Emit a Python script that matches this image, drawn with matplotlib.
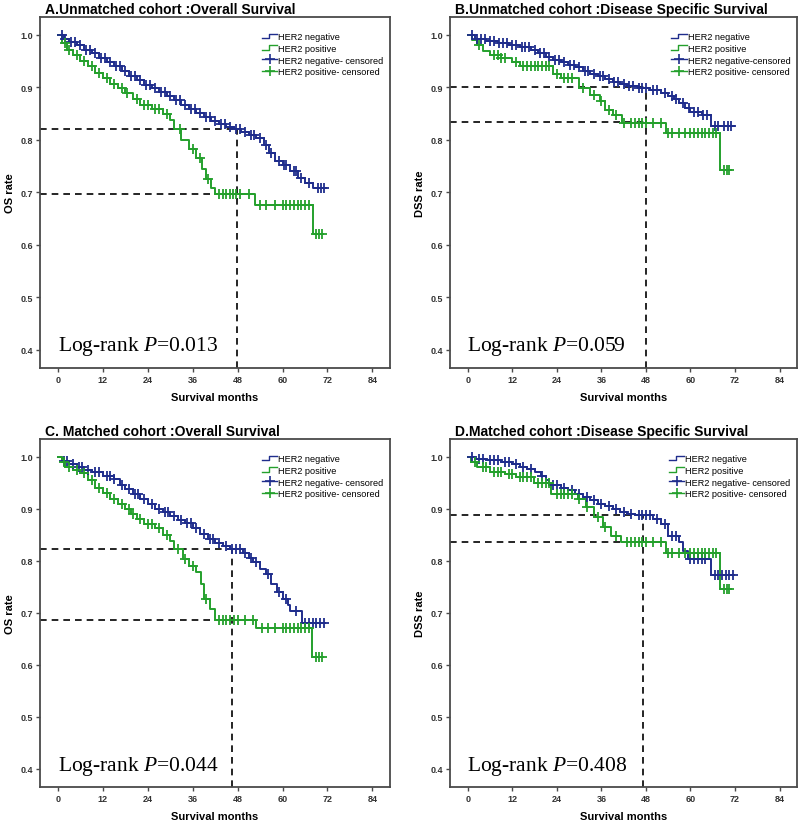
import numpy as np
import matplotlib
matplotlib.use("Agg")
import matplotlib.pyplot as plt
from matplotlib.legend_handler import HandlerBase
from matplotlib.lines import Line2D

# ---------------- data ----------------
titles = ["A.Unmatched cohort :Overall Survival",
          "B.Unmatched cohort :Disease Specific Survival",
          "C. Matched cohort :Overall Survival",
          "D.Matched cohort :Disease Specific Survival"]
ylabels = ["OS rate", "DSS rate", "OS rate", "DSS rate"]
pvalues = ["0.013", "0.059", "0.044", "0.408"]
legend_labels = [["HER2 negative", "HER2 positive", "HER2 negative- censored", "HER2 positive- censored"],
                 ["HER2 negative", "HER2 positive", "HER2 negative-censored", "HER2 positive- censored"],
                 ["HER2 negative", "HER2 positive", "HER2 negative- censored", "HER2 positive- censored"],
                 ["HER2 negative", "HER2 positive", "HER2 negative- censored", "HER2 positive- censored"]]
xticks = [0, 12, 24, 36, 48, 60, 72, 84]
yticks = [0.4, 0.5, 0.6, 0.7, 0.8, 0.9, 1.0]

# Panel A
negA_t = [0, 1.5, 3, 5, 7, 9, 11, 13, 15, 17, 19, 21, 23, 25, 27, 29, 31, 33, 35, 37, 39, 41, 43, 45, 47,
          49, 51, 53, 55, 56.5, 58, 60, 62, 64, 66, 68]
negA_s = [1.0, 0.993, 0.987, 0.980, 0.972, 0.965, 0.955, 0.948, 0.940, 0.932, 0.922, 0.914, 0.905, 0.898,
          0.891, 0.884, 0.875, 0.866, 0.858, 0.851, 0.843, 0.836, 0.830, 0.825, 0.820, 0.815, 0.810, 0.803,
          0.790, 0.775, 0.760, 0.752, 0.740, 0.728, 0.718, 0.708]
negA_end = 71.5
negA_c = [1, 2, 3.5, 4.5, 6, 7.5, 8.5, 10, 11.5, 12.5, 14, 15.5, 16.5, 18, 19.5, 20.5, 22, 23.5, 24.5, 26,
          27.5, 28.5, 30, 31.5, 32.5, 34, 35.5, 36.5, 38, 39.5, 40.5, 42, 43.5, 44.5, 46, 47.5, 48.5, 50,
          51.5, 52.5, 54, 55.5, 57, 59, 60.5, 61, 63, 63.5, 65, 67, 69.5, 70.3, 71]
posA_t = [0, 1, 2.5, 4, 6, 8, 10, 12, 14, 16, 18, 20, 22, 25, 28, 30, 31, 33, 35, 37, 38.5, 39.5, 41, 42,
          52.7, 68.2]
posA_s = [1.0, 0.985, 0.972, 0.962, 0.950, 0.940, 0.928, 0.918, 0.906, 0.898, 0.890, 0.878, 0.866, 0.858,
          0.850, 0.838, 0.820, 0.800, 0.783, 0.765, 0.745, 0.725, 0.708, 0.696, 0.675, 0.620]
posA_end = 70.8
posA_c = [2, 3, 5, 7, 9, 11, 13, 15, 17, 18.5, 21, 23, 24, 26, 27, 29, 32.5, 36, 38, 40, 43, 44, 45, 46,
          46.8, 47.5, 48.5, 51, 54, 55.5, 58, 60, 61, 62, 63, 64, 65, 66, 67, 69, 69.8, 70.5]

# Panel B
negB_t = [0, 2, 5, 8, 11, 14, 17, 19, 21, 23, 25, 27, 29, 31, 33, 35, 37, 39, 41, 43, 46, 49, 52, 54,
          55.5, 57, 58.5, 60, 63, 65.4]
negB_s = [1.0, 0.993, 0.988, 0.984, 0.980, 0.976, 0.972, 0.965, 0.958, 0.952, 0.948, 0.943, 0.938, 0.932,
          0.926, 0.921, 0.916, 0.911, 0.906, 0.903, 0.899, 0.895, 0.889, 0.883, 0.877, 0.870, 0.860, 0.852,
          0.847, 0.827]
negB_end = 71.6
negB_c = [1, 2.5, 3.5, 4.5, 6, 7, 8.5, 9.5, 10.5, 12, 13, 14.5, 15.5, 16.5, 18, 19.5, 20.5, 22, 23.5, 24.5,
          26, 27.5, 28.5, 30, 31.5, 32.5, 34, 35.5, 36.5, 38, 39.5, 40.5, 42, 43.5, 44.5, 46, 47, 48, 50,
          51, 53, 55, 56, 58, 59.5, 61, 62, 63.5, 64.5, 66.5, 67.5, 69, 70, 71]
posB_t = [0, 1, 2.5, 4, 6, 9, 12, 14, 22.9, 25, 30, 33, 35.5, 37, 39, 41.5, 53.3, 68]
posB_s = [1.0, 0.990, 0.980, 0.970, 0.962, 0.955, 0.948, 0.941, 0.925, 0.918, 0.899, 0.886, 0.873, 0.857,
          0.847, 0.832, 0.812, 0.743]
posB_end = 70.8
posB_c = [3, 7, 8, 9, 10, 13, 15, 16, 17, 18, 19, 20, 21, 22, 24, 26, 27, 28, 31, 34, 36, 38, 40, 42, 44,
          45, 46, 47, 48, 50, 52, 54, 55, 57, 58.5, 60, 61, 62, 63, 64, 65, 66, 67, 69, 69.8, 70.5]

# Panel C
negC_t = [0, 1, 3, 5, 7, 9, 12, 15, 16.5, 18, 20, 22, 24, 26, 28, 30, 32, 34, 36, 38, 40, 42, 44, 46,
          49.5, 51, 52, 54, 55.5, 57, 58.5, 60, 61.5, 62, 65.2]
negC_s = [1.0, 0.992, 0.985, 0.980, 0.975, 0.970, 0.963, 0.957, 0.945, 0.937, 0.928, 0.918, 0.910, 0.900,
          0.893, 0.886, 0.878, 0.872, 0.862, 0.852, 0.841, 0.835, 0.829, 0.822, 0.815, 0.806, 0.797, 0.785,
          0.775, 0.755, 0.740, 0.727, 0.715, 0.704, 0.680]
negC_end = 71.4
negC_c = [1.5, 2.5, 4, 5.5, 6.5, 8, 10, 11, 13, 14, 15, 17, 19, 20.5, 21.5, 23, 25, 27, 28.5, 29.5, 31,
          33, 34.5, 35.5, 37, 39, 40.5, 41.5, 43, 45, 46.5, 47.5, 48.5, 50, 51.5, 53, 56, 59, 61, 63.5,
          66, 67, 68, 69, 70, 71]
posC_t = [0, 1, 2, 4, 6, 8, 10, 12, 14, 16, 18, 19.5, 21, 23, 26, 28, 30, 31, 33.5, 35, 37, 38.3, 38.9,
          40.5, 42, 53, 67.9]
posC_s = [1.0, 0.990, 0.981, 0.975, 0.968, 0.955, 0.940, 0.930, 0.918, 0.910, 0.900, 0.890, 0.880, 0.870,
          0.862, 0.850, 0.838, 0.822, 0.803, 0.790, 0.778, 0.755, 0.727, 0.708, 0.687, 0.671, 0.615]
posC_end = 70.6
posC_c = [1.5, 3, 5, 7, 9, 11, 13, 15, 17, 19, 20, 22, 24, 25, 27, 29, 32, 34, 36, 39.5, 43, 44, 45, 46,
          47, 48, 50, 52, 54.5, 56, 58, 60, 61, 62, 63, 64, 65, 66, 67, 69, 69.8, 70.5]

# Panel D
negD_t = [0, 2, 5, 9, 12, 14, 16, 18, 19.6, 21, 22, 25, 27, 29, 31, 33, 35, 37, 39, 41, 43, 45, 50, 52,
          54, 57, 58.1, 59.2, 65.4]
negD_s = [1.0, 0.995, 0.993, 0.990, 0.985, 0.981, 0.976, 0.971, 0.962, 0.955, 0.946, 0.940, 0.935, 0.928,
          0.922, 0.916, 0.910, 0.905, 0.900, 0.894, 0.889, 0.887, 0.880, 0.870, 0.848, 0.836, 0.818, 0.803,
          0.772]
negD_end = 71.6
negD_c = [1, 3, 4, 6, 7, 8, 10, 11, 13, 15, 17, 20, 23, 24, 26, 28, 30, 32, 34, 36, 38, 40, 42, 44, 46,
          47, 48, 49, 51, 53, 55, 56, 60, 61, 62, 63, 64, 66.5, 67.5, 68.5, 69.5, 70.5, 71.5]
posD_t = [0, 0.8, 2.5, 6, 10, 13, 17.8, 22.3, 29.6, 31.8, 33.9, 36.3, 38.5, 41.2, 53.3, 68]
posD_s = [1.0, 0.990, 0.981, 0.971, 0.966, 0.960, 0.950, 0.928, 0.918, 0.903, 0.885, 0.864, 0.847, 0.836,
          0.815, 0.746]
posD_end = 70.8
posD_c = [2, 4, 5, 7, 8, 9, 11, 12, 14, 15, 16, 17, 19, 20, 21, 22, 24, 25, 26, 27, 28, 30, 32, 35, 37,
          40, 43, 44, 45, 46, 47, 48, 50, 52, 54, 55, 57, 58.5, 60, 61, 62, 63, 64, 65, 66, 67, 69, 69.8, 70.5]

# reference guide lines: (x position, upper y, lower y)
guide_x = [47.8, 47.9, 46.6, 47.1]
guide_hi = [0.820, 0.900, 0.822, 0.887]
guide_lo = [0.697, 0.833, 0.686, 0.836]

curves = [
    (negA_t, negA_s, negA_end, negA_c, posA_t, posA_s, posA_end, posA_c),
    (negB_t, negB_s, negB_end, negB_c, posB_t, posB_s, posB_end, posB_c),
    (negC_t, negC_s, negC_end, negC_c, posC_t, posC_s, posC_end, posC_c),
    (negD_t, negD_s, negD_end, negD_c, posD_t, posD_s, posD_end, posD_c),
]

# ---------------- style ----------------
BLUE = "#1f2d8c"
GREEN = "#24a02c"
FRAME = "#4a4a4a"
plt.rcParams["font.family"] = ["Liberation Sans", "DejaVu Sans"]
plt.rcParams["mathtext.fontset"] = "custom"
plt.rcParams["mathtext.rm"] = "Liberation Serif"
plt.rcParams["mathtext.it"] = "Liberation Serif:italic"

W, H = 799, 828
fig = plt.figure(figsize=(W / 100, H / 100), dpi=100)
fig.patch.set_facecolor("white")

boxes = [(40, 18, 390, 369), (450, 18, 797, 369), (40, 440, 390, 788), (450, 440, 797, 788)]


class StepHandler(HandlerBase):
    def create_artists(self, legend, orig_handle, xdescent, ydescent, width, height, fontsize, trans):
        x = np.array([0, 0.45, 0.45, 1.0]) * width - xdescent
        y = np.array([0.15, 0.15, 0.85, 0.85]) * height - ydescent
        ln = Line2D(x, y, color=orig_handle.get_color(), lw=1.0, transform=trans)
        return [ln]


def step_value(t, s, x):
    i = np.searchsorted(np.asarray(t), x, side="right") - 1
    return np.asarray(s)[i]


for k, (l, t, r, b) in enumerate(boxes):
    ax = fig.add_axes([l / W, 1 - b / H, (r - l) / W, (b - t) / H])
    nt, ns, nend, nc, pt, ps, pend, pc = curves[k]
    xlo = -4.8
    ax.set_xlim(xlo, 88.7)
    ax.set_ylim(0.365, 1.034)

    # guide lines
    gx = guide_x[k]
    ax.plot([xlo, gx], [guide_hi[k]] * 2, color="black", lw=1.2, ls=(0, (4, 3)), zorder=1)
    ax.plot([xlo, gx], [guide_lo[k]] * 2, color="black", lw=1.2, ls=(0, (4, 3)), zorder=1)
    ax.plot([gx, gx], [0.365, guide_hi[k]], color="black", lw=1.2, ls=(0, (4, 3)), zorder=1)

    # curves
    hn, = ax.step(list(nt) + [nend], list(ns) + [ns[-1]], where="post", color=BLUE, lw=1.4, zorder=3)
    hp, = ax.step(list(pt) + [pend], list(ps) + [ps[-1]], where="post", color=GREEN, lw=1.4, zorder=3)
    nc_arr = np.asarray(nc)
    pc_arr = np.asarray(pc)
    ax.plot(nc_arr, step_value(nt, ns, nc_arr), ls="none", marker="+", ms=6.5, mew=1.3, color=BLUE, zorder=4)
    ax.plot(pc_arr, step_value(pt, ps, pc_arr), ls="none", marker="+", ms=6.5, mew=1.3, color=GREEN, zorder=4)

    # legend
    hcn = Line2D([], [], color=BLUE, marker="+", ms=7, lw=1.0, mew=1.2)
    hcp = Line2D([], [], color=GREEN, marker="+", ms=7, lw=1.0, mew=1.2)
    ax.legend([hn, hp, hcn, hcp], legend_labels[k], loc="upper right", frameon=False,
              fontsize=6.6, handlelength=1.7, handletextpad=0.1, labelspacing=0.3,
              borderaxespad=0.3, bbox_to_anchor=(1.0, 0.975),
              handler_map={hn: StepHandler(), hp: StepHandler()})

    # axes styling
    ax.set_xticks(xticks)
    ax.set_yticks(yticks)
    ax.set_xticklabels([str(v) for v in xticks], fontsize=6.5, fontweight="bold", color="#333333")
    ax.set_yticklabels([f"{v:.1f}" for v in yticks], fontsize=6.5, fontweight="bold", color="#333333")
    ax.tick_params(direction="out", length=3, width=1.0, color=FRAME, pad=2)
    for sp in ax.spines.values():
        sp.set_color(FRAME)
        sp.set_linewidth(1.3)
    ax.set_xlabel("Survival months", fontsize=8, fontweight="bold", labelpad=6)
    ax.set_ylabel(ylabels[k], fontsize=8, fontweight="bold", labelpad=4)
    ax.set_title(titles[k], loc="left", fontsize=10, fontweight="bold", pad=3, x=0.015)

    ax.text(0.05, 0.03, "Log-rank $\\mathit{P}$=" + pvalues[k], transform=ax.transAxes,
            fontsize=15.5, family="Liberation Serif", ha="left", va="bottom")

fig.savefig("out.png", dpi=100, facecolor="white")
